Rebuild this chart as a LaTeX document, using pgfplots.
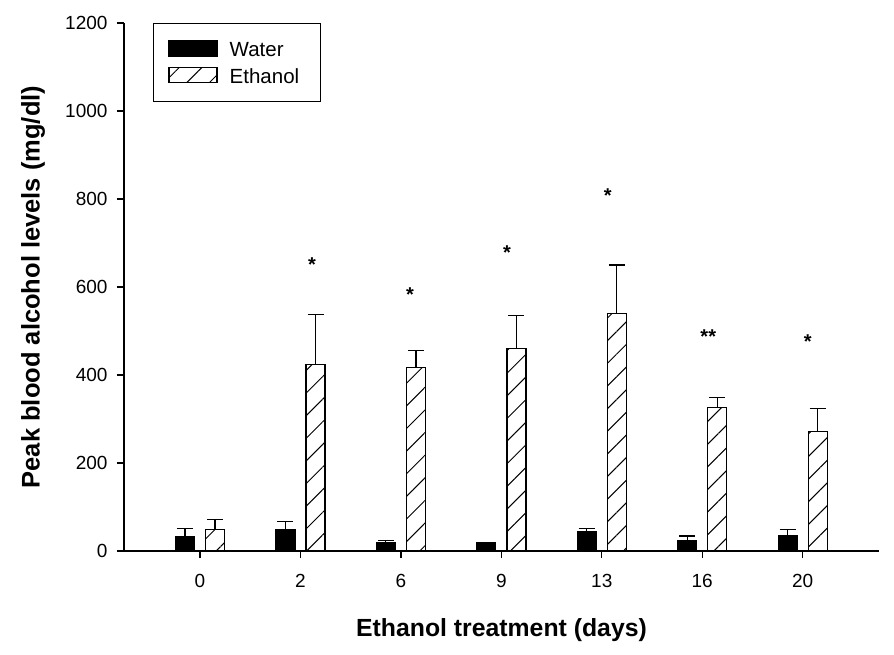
\documentclass[border=0pt]{standalone}
\usepackage{fontspec}
\setmainfont{Liberation Sans}
\usepackage{pgfplots}
\pgfplotsset{compat=1.18}
\usetikzlibrary{patterns.meta}

\begin{document}
\begin{tikzpicture}
\begin{axis}[
  scale only axis, width=755pt, height=528pt,
  xmin=-0.757, xmax=6.76, ymin=0, ymax=1200,
  axis x line*=bottom, axis y line*=left,
  axis line style={line width=1.2pt, black},
  xtick={0,...,6}, xticklabels={0,2,6,9,13,16,20},
  ytick={0,200,...,1200},
  tick align=outside, major tick length=7pt,
  tick style={line width=1.2pt, black},
  ticklabel style={font=\fontsize{19}{22}\selectfont},
  xticklabel style={yshift=-13pt},
  yticklabel style={xshift=-6pt},
  /pgf/number format/assume math mode=true,
  /pgf/number format/1000 sep={},
  xlabel={Ethanol treatment (days)},
  ylabel={Peak blood alcohol levels (mg/dl)},
  every axis x label/.style={at={(rel axis cs:0.5,0)}, yshift=-79pt, anchor=center,
    font=\bfseries\fontsize{24.8}{28}\selectfont},
  every axis y label/.style={at={(rel axis cs:0,0.5)}, xshift=-91pt, anchor=center, rotate=90,
    font=\bfseries\fontsize{25.5}{28}\selectfont},
  legend style={at={(rel axis cs:0.0384,1)}, anchor=north west, draw=black, line width=1pt,
    font=\fontsize{20.5}{24}\selectfont, inner xsep=15pt, inner ysep=17pt, row sep=8.5pt,
    column sep=12pt, nodes={inner sep=0pt}},
  legend cell align=left,
  legend image code/.code={\draw[#1] (0pt,-5.6pt) rectangle (48pt,9.4pt);},
]
\addplot[fill=black, draw=black, line width=1.2pt, ybar, bar width=19pt, bar shift=0pt,
  error bars/.cd, y dir=plus, y explicit,
  error bar style={line width=1.2pt, black},
  error mark options={rotate=90, line width=1.2pt, mark size=8pt, black}]
  coordinates {(-0.15,32) +- (0,19) (0.85,49) +- (0,18) (1.85,20) +- (0,4) (2.85,18) +- (0,2)
               (3.85,45) +- (0,7) (4.85,24) +- (0,10) (5.85,35) +- (0,14)};
\addlegendentry{Water}
\addplot[fill=white, draw=black, line width=1.2pt, ybar, bar width=19pt, bar shift=0pt,
  pattern={Lines[angle=45,distance=16pt,line width=1pt]},
  error bars/.cd, y dir=plus, y explicit,
  error bar style={line width=1.2pt, black},
  error mark options={rotate=90, line width=1.2pt, mark size=8pt, black}]
  coordinates {(0.15,49) +- (0,22) (1.15,423) +- (0,115) (2.15,417) +- (0,38) (3.15,461) +- (0,75)
               (4.15,540) +- (0,110) (5.15,326) +- (0,22) (6.15,271) +- (0,53)};
\addlegendentry{\makebox[76pt][l]{Ethanol}}
\addplot[only marks, mark=text, text mark={*}, text mark as node=true,
  text mark style={font=\bfseries\fontsize{20}{24}\selectfont}, forget plot]
  coordinates {(1.115,650) (2.09,583) (3.057,679) (4.06,807) (6.05,475)};
\addplot[only marks, mark=text, text mark={**}, text mark as node=true,
  text mark style={font=\bfseries\fontsize{20}{24}\selectfont}, forget plot]
  coordinates {(5.06,488)};
\coordinate (sw) at (rel axis cs:0,0);
\coordinate (ne) at (rel axis cs:1,1);
\end{axis}
\pgfresetboundingbox
\path ([shift={(-124pt,-103pt)}]sw) rectangle ([shift={(15pt,23pt)}]ne);
\end{tikzpicture}
\end{document}
